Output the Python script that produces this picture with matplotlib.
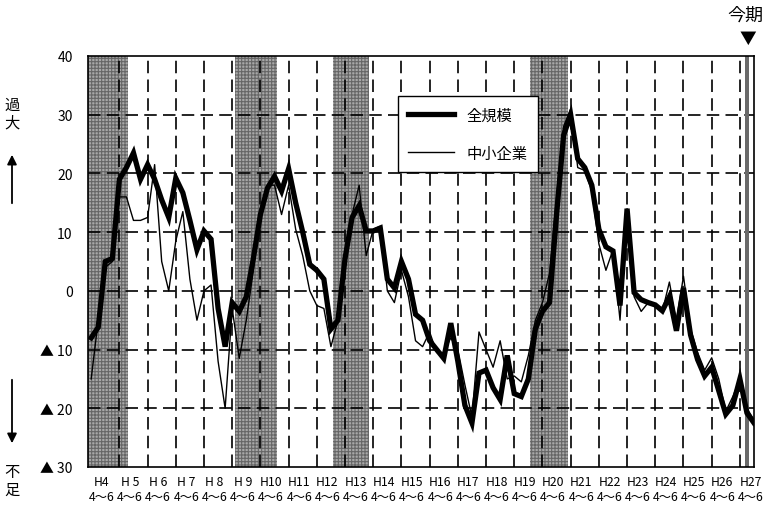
import matplotlib
matplotlib.use("Agg")
import matplotlib.pyplot as plt

plt.rcParams['font.family'] = ['Noto Sans CJK JP', 'DejaVu Sans']
plt.rcParams['hatch.linewidth'] = 0.8
plt.rcParams['hatch.color'] = '#666666'
plt.rcParams['lines.scale_dashes'] = False

# quarterly BSI, H4 4~6 .. H27 10~12 (last one is the forecast)
zen = [-8, -6.2, 5, 5.5, 19, 21, 23.5, 19, 21.5, 19, 15.5, 12.5,
       19.2, 16.7, 12, 7, 10.2, 8.8, -3, -9.5, -2, -3.5, -1, 5.5,
       13, 17.5, 19.5, 17, 20.8, 15, 10, 4.5, 3.5, 2, -6.5, -5,
       5.5, 12.5, 14.5, 10.2, 10.2, 10.7, 2, 0.5, 5, 2, -4, -5,
       -8.5, -10, -11.5, -5.5, -12, -19.5, -22.5, -14, -13.5, -16.5, -18.5, -11,
       -17.5, -18, -15, -6.5, -3.5, -2, 13, 26.5, 30, 22.5, 21, 18,
       10.5, 7.5, 6.8, -2.5, 14, -0.3, -1.5, -2, -2.4, -3.4, -1, -6.8,
       0.5, -7.5, -11.7, -14.5, -13, -17, -21, -19.5, -15, -20.8, -22.5]
chusho = [-15, -5, 4, 5, 16, 16, 12, 12, 12.5, 21.5, 5, 0,
          8.5, 13.5, 2, -5, 0, 1, -12, -20, -3, -11.5, -5, 3.5,
          14, 18, 18, 13, 18, 10.5, 6, 0, -2.5, -3, -9.5, -5,
          7, 13, 18, 6, 10.5, 11, 0, -2, 3.5, -1, -8.5, -9.5,
          -7, -10.5, -10.5, -8, -10, -16, -21.5, -7, -10, -13, -8.5, -15,
          -14.5, -15.5, -11, -5, -2, 3, 16, 28, 31, 21, 20.5, 17,
          8, 3.5, 7, -5, 14, -1, -3.5, -2, -2.5, -3.5, 1.5, -5,
          2.5, -6.5, -10.5, -13.5, -11.4, -15, -20.5, -18, -15, -20, -22]

years = ["H4"] + ["H " + str(y) for y in range(5, 10)] + ["H" + str(y) for y in range(10, 28)]
recessions = [(-0.5, 5.2), (20.4, 26.4), (34.3, 39.4), (62.3, 67.6)]
konki = 93
yticks = [40, 30, 20, 10, 0, -10, -20, -30]
ylabels = ["40", "30", "20", "10", "0", "▲ 10", "▲ 20", "▲ 30"]

fig = plt.figure(figsize=(7.63, 5.10), dpi=100)
ax = fig.add_axes([88 / 763, 1 - 468 / 510, 666 / 763, 411 / 510])

x = list(range(len(zen)))

for a, b in recessions:
    ax.axvspan(a, b, facecolor='#a8a8a8', edgecolor='#666666', hatch='+++++', lw=0, zorder=1)

for yy in range(-20, 40, 10):
    ax.axhline(yy, color='black', lw=1.2, dashes=(9, 4.5), zorder=2)
for xx in range(4, 93, 4):
    ax.axvline(xx, color='black', lw=1.2, dashes=(9, 4.5), zorder=2)

ax.axvspan(konki - 0.25, konki + 0.25, color='#6a6a6a', lw=0, zorder=3)

ax.plot(x, zen, color='black', lw=3.8, solid_joinstyle='miter', label='全規模', zorder=5)
ax.plot(x, chusho, color='black', lw=1.0, label='中小企業', zorder=4)

ax.set_xlim(-0.45, 94.0)
ax.set_ylim(-30, 40)
ax.set_yticks(yticks)
ax.set_yticklabels(ylabels, fontsize=10)
ax.set_xticks([i * 4 + 1.5 for i in range(len(years))])
ax.set_xticklabels([y + "\n4～6" for y in years], fontsize=8.8, linespacing=1.15)
ax.tick_params(axis='both', length=0)
ax.tick_params(axis='y', pad=11)
ax.tick_params(axis='x', pad=6)
for s in ax.spines.values():
    s.set_linewidth(1.2)
    s.set_zorder(6)

leg = ax.legend(loc='upper left', bbox_to_anchor=((390 - 88) / 666, (468 - 89) / 411),
                fontsize=11, handlelength=3.0, labelspacing=1.4, borderpad=0.7,
                fancybox=False, framealpha=1, edgecolor='black')
leg.get_frame().set_linewidth(1.0)
leg.set_zorder(7)

# side notes
fig.text(12 / 763, 1 - 114 / 510, "過\n大", fontsize=11, ha='center', va='center', linespacing=1.05)
fig.text(12 / 763, 1 - 481 / 510, "不\n足", fontsize=11, ha='center', va='center', linespacing=1.05)
fig.add_artist(plt.matplotlib.patches.FancyArrowPatch(
    (12 / 763, 1 - 207 / 510), (12 / 763, 1 - 153 / 510), transform=fig.transFigure,
    arrowstyle='-|>', mutation_scale=14, color='black', lw=1.3))
fig.add_artist(plt.matplotlib.patches.FancyArrowPatch(
    (12 / 763, 1 - 378 / 510), (12 / 763, 1 - 447 / 510), transform=fig.transFigure,
    arrowstyle='-|>', mutation_scale=14, color='black', lw=1.3))

fig.text(727 / 763, 1 - 16 / 510, "今期", fontsize=13, ha='left', va='center')
fig.text(748 / 763, 1 - 39 / 510, "▼", fontsize=12, ha='center', va='center')

fig.savefig("out.png", dpi=100)
